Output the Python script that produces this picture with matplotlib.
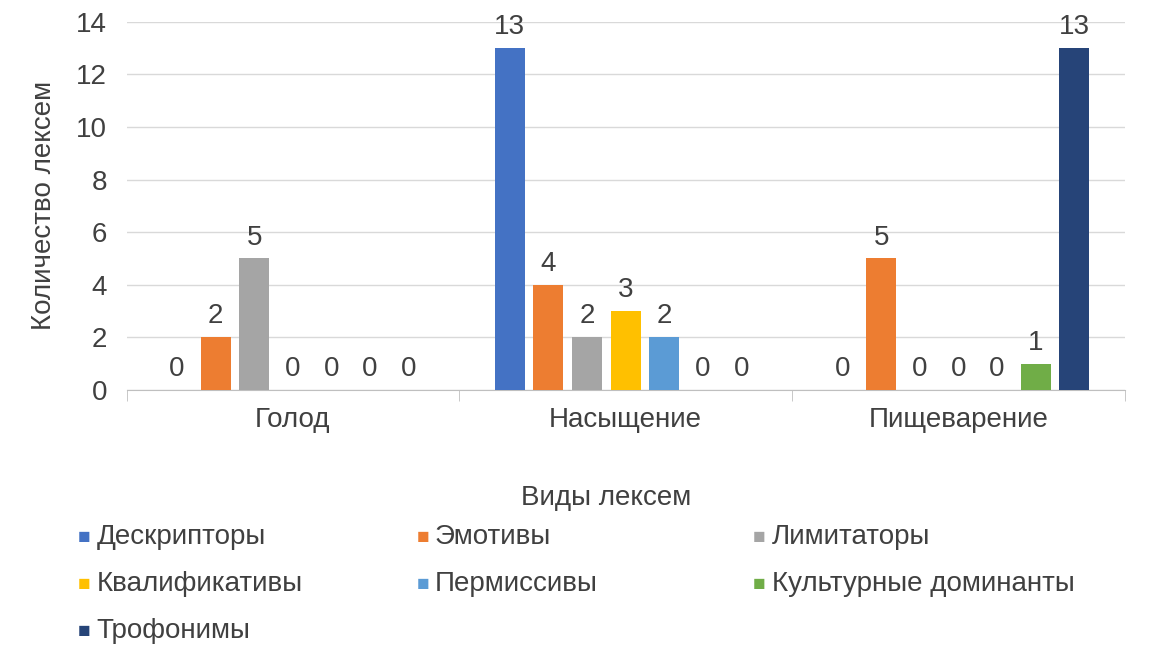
import matplotlib
matplotlib.use("Agg")
import matplotlib.pyplot as plt
import numpy as np

plt.rcParams["font.family"] = "Liberation Sans"

categories = ["Голод", "Насыщение", "Пищеварение"]
series_names = ["Дескрипторы", "Эмотивы", "Лимитаторы", "Квалификативы",
                "Пермиссивы", "Культурные доминанты", "Трофонимы"]
values = [
    [0, 13, 0],
    [2, 4, 5],
    [5, 2, 0],
    [0, 3, 0],
    [0, 2, 0],
    [0, 0, 1],
    [0, 0, 13],
]
colors = ["#4472C4", "#ED7D31", "#A5A5A5", "#FFC000", "#5B9BD5", "#70AD47", "#264478"]
yticks = [0, 2, 4, 6, 8, 10, 12, 14]

FS = 20
fig = plt.figure(figsize=(11.5, 6.63), dpi=100)
ax = fig.add_axes([0.110, 0.412, 0.868, 0.555])
x = np.arange(len(categories))
step = 0.116
w = 0.09
for i, (name, vals, c) in enumerate(zip(series_names, values, colors)):
    pos = x + (i - 3) * step
    ax.bar(pos, vals, w, color=c, label=name, zorder=3)
    for p, v in zip(pos, vals):
        ax.text(p, v + 0.3, str(v), ha="center", va="bottom", fontsize=FS, color="#404040")

ax.set_xlim(-0.5, 2.5)
ax.set_ylim(0, 14)
ax.set_yticks(yticks)
ax.yaxis.grid(True, color="#D9D9D9", linewidth=1, zorder=0)
for s in ["top", "right", "left"]:
    ax.spines[s].set_visible(False)
ax.spines["bottom"].set_color("#BFBFBF")
ax.set_xticks(x)
ax.set_xticklabels(categories)
ax.set_xticks([-0.5, 0.5, 1.5, 2.5], minor=True)
ax.tick_params(axis="x", which="major", length=0, pad=12, labelsize=FS, labelcolor="#404040")
ax.tick_params(axis="x", which="minor", length=8, color="#BFBFBF")
ax.tick_params(axis="y", length=0, labelsize=FS, labelcolor="#404040", pad=14)
ax.set_ylabel("Количество лексем", fontsize=FS, color="#404040", labelpad=14)
fig.text(0.527, 0.249, "Виды лексем", ha="center", va="center", fontsize=FS, color="#404040")

colx = [0.068, 0.362, 0.655]
rowy = [0.190, 0.119, 0.048]
for i, name in enumerate(series_names):
    r, cc = divmod(i, 3)
    fig.text(colx[cc], rowy[r], "\u25A0", color=colors[i], fontsize=15, va="center", ha="left")
    fig.text(colx[cc] + 0.016, rowy[r], name, fontsize=FS, color="#404040", va="center", ha="left")

fig.savefig("out.png", dpi=100)
